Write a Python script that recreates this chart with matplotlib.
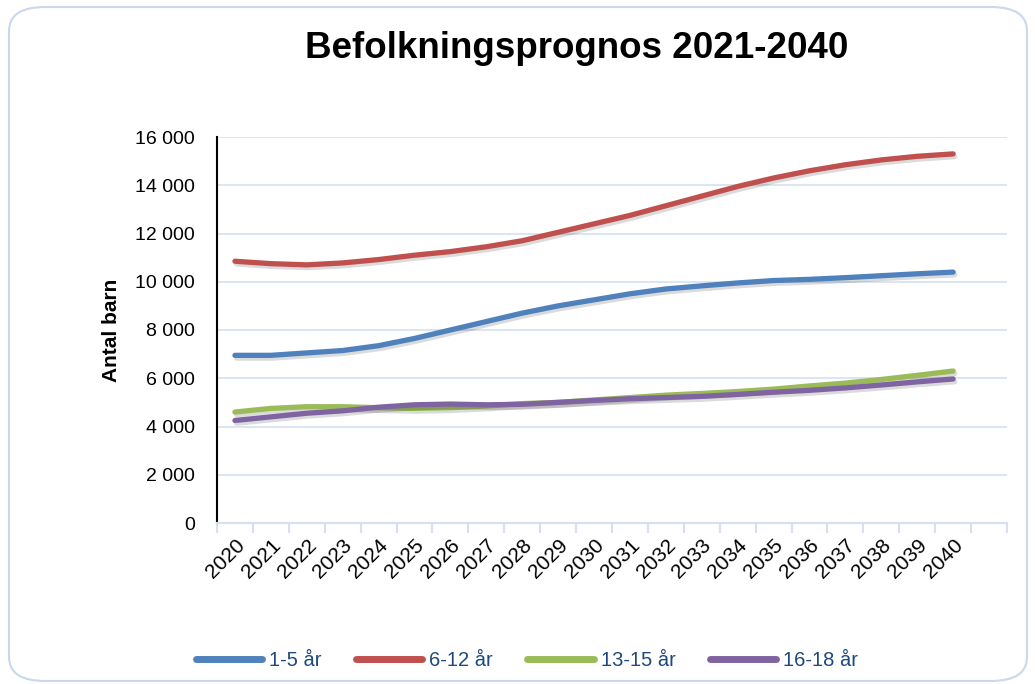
"""
Befolkningsprognos 2021-2040 — linjediagram per åldersgrupp.
Sparar out.png
"""
import matplotlib.pyplot as plt
import matplotlib.patheffects as pe
from matplotlib.patches import FancyBboxPatch
from matplotlib.ticker import FuncFormatter

years = [str(y) for y in range(2020, 2041)]
ages_1_5 = [6950, 6950, 7050, 7150, 7350, 7650, 8000, 8350, 8700, 9000,
            9250, 9500, 9700, 9830, 9950, 10050, 10100, 10170, 10250, 10330, 10400]
ages_6_12 = [10850, 10750, 10700, 10780, 10920, 11100, 11250, 11450, 11700, 12050,
             12400, 12750, 13150, 13550, 13950, 14300, 14600, 14850, 15050, 15200, 15300]
ages_13_15 = [4600, 4750, 4820, 4820, 4780, 4750, 4780, 4850, 4950, 5000,
              5100, 5200, 5300, 5370, 5450, 5550, 5680, 5800, 5950, 6120, 6300]
ages_16_18 = [4250, 4400, 4550, 4650, 4800, 4900, 4930, 4900, 4920, 5000,
              5080, 5150, 5200, 5250, 5330, 5420, 5500, 5600, 5720, 5850, 5970]
series = [("1-5 år", ages_1_5, "#4F81BD"),
          ("6-12 år", ages_6_12, "#C0504D"),
          ("13-15 år", ages_13_15, "#9BBB59"),
          ("16-18 år", ages_16_18, "#8064A2")]

GRID = "#D6E0F0"
INK = "#000000"

plt.rcParams.update({"font.family": ["Liberation Sans", "DejaVu Sans"]})

fig = plt.figure(figsize=(10.35, 6.84), dpi=100)
fig.patches.append(FancyBboxPatch((9 / 1035, 3 / 684), 1018 / 1035, 674 / 684,
                                  boxstyle="round,pad=0,rounding_size=0.035",
                                  transform=fig.transFigure, fc="none",
                                  ec="#C9D8EE", lw=1.5, zorder=-5))

ax = fig.add_axes([217 / 1035, 1 - 523 / 684, 790 / 1035, 386 / 684])
ax.set_facecolor("none")

x = list(range(len(years)))
for name, vals, col in series:
    ax.plot(x, vals, color=col, lw=3.8, solid_capstyle="round", label=name,
            path_effects=[pe.SimpleLineShadow(offset=(1.2, -2.0), alpha=0.14, rho=0.4),
                          pe.Normal()], zorder=3)

ax.set_xlim(-0.5, len(years) + 0.5)
ax.set_ylim(0, 16000)
ax.set_yticks(range(0, 16001, 2000))
ax.yaxis.set_major_formatter(FuncFormatter(lambda v, p: f"{int(v):,}".replace(",", " ")))
ax.grid(axis="y", color=GRID, lw=1.2)
ax.set_axisbelow(True)

ax.set_xticks([i - 0.5 for i in range(len(years) + 2)])
ax.set_xticklabels([])
ax.set_xticks(x, minor=True)
ax.set_xticklabels(years, minor=True, rotation=45, ha="right", va="top",
                   rotation_mode="anchor", fontsize=15)
ax.tick_params(axis="x", which="major", length=7, color=GRID, width=1.5)
ax.tick_params(axis="x", which="minor", length=0, pad=9)
ax.tick_params(axis="y", length=0, pad=16, labelsize=14)

for s in ("top", "right"):
    ax.spines[s].set_visible(False)
ax.spines["bottom"].set_color(GRID)
ax.spines["bottom"].set_linewidth(1.5)
ax.spines["left"].set_color(INK)
ax.spines["left"].set_linewidth(1.5)

ax.set_ylabel("Antal barn", fontsize=15, fontweight="bold", labelpad=10)

fig.text(577 / 1035, 1 - 48 / 684, "Befolkningsprognos 2021-2040",
         ha="center", va="center", fontsize=26.5, fontweight="bold")

leg = fig.legend(loc="center", bbox_to_anchor=(527 / 1035, 1 - 661 / 684), ncol=4,
                 frameon=False, fontsize=14.5, handlelength=3.3, columnspacing=1.7,
                 handletextpad=0.35)
for t in leg.get_texts():
    t.set_color("#1F497D")
for h in leg.get_lines():
    h.set_linewidth(5)
    h.set_path_effects([])

fig.savefig("out.png", dpi=100)
